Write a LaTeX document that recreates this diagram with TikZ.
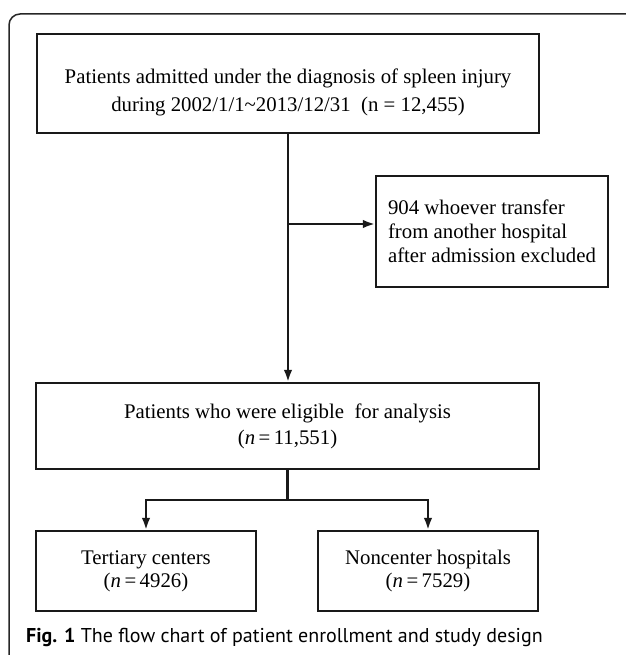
\documentclass[tikz,border=0pt]{standalone}
\usepackage{fontspec}
\setmainfont{Liberation Serif}
\newfontfamily\capfont{PT Sans}
\usetikzlibrary{arrows.meta}
\tikzset{
  box/.style={draw=black!90, line width=2.2pt, rectangle, inner sep=0pt},
  txt/.style={inner sep=0pt, align=center},
  arr/.style={line width=2.2pt, draw=black!90, -{Latex[length=12pt,width=8.5pt]}},
  plainline/.style={line width=2.2pt, draw=black!90},
  frame/.style={line width=1.5pt, draw=black!85, rounded corners=11pt}
}
\begin{document}
\begin{tikzpicture}[x=1pt,y=-1pt]
\useasboundingbox (0,0) rectangle (625,655);
% frame
\draw[frame] (630,14) -- (9,14) -- (9,660);
% boxes
\node[box, minimum width=502pt, minimum height=99pt] (top) at (288,83.5) {};
\node[txt, font=\fontsize{20.8}{28}\selectfont] (toptxt) at (288,92.5)
  {Patients admitted under the diagnosis of spleen injury\\during 2002/1/1\textasciitilde2013/12/31\ \ (n = 12,455)};
\node[box, minimum width=232pt, minimum height=111pt, align=left,
      font=\fontsize{20.8}{24}\selectfont] (excl) at (492,231.5)
  {904 whoever transfer\\from another hospital\\after admission excluded};
\node[box, minimum width=503pt, minimum height=86pt, align=center,
      font=\fontsize{20.8}{26}\selectfont] (elig) at (287.5,426)
  {Patients who were eligible\ \ for analysis\\(\textit{n}\,=\,11,551)};
\node[box, minimum width=220pt, minimum height=80pt, align=center,
      font=\fontsize{20.8}{23}\selectfont] (tert) at (146,571)
  {Tertiary centers\\(\textit{n}\,=\,4926)};
\node[box, minimum width=220pt, minimum height=80pt, align=center,
      font=\fontsize{20.8}{23}\selectfont] (nonc) at (428,571)
  {Noncenter hospitals\\(\textit{n}\,=\,7529)};
% connectors
\draw[arr] (top.south) -- (top.south |- elig.north);
\coordinate (b1) at (288,224);
\draw[arr] (b1) -- (b1 -| excl.west);
\coordinate (b2) at (287.5,500);
\draw[plainline] (elig.south) -- (b2);
\draw[arr] (b2) -| (tert.north);
\draw[arr] (b2) -| (nonc.north);
% caption
\node[anchor=base west, inner sep=0pt, font=\capfont\fontsize{20}{24}\selectfont] (cap) at (26,642)
  {\textbf{Fig. 1} The flow chart of patient enrollment and study design};
\end{tikzpicture}
\end{document}
